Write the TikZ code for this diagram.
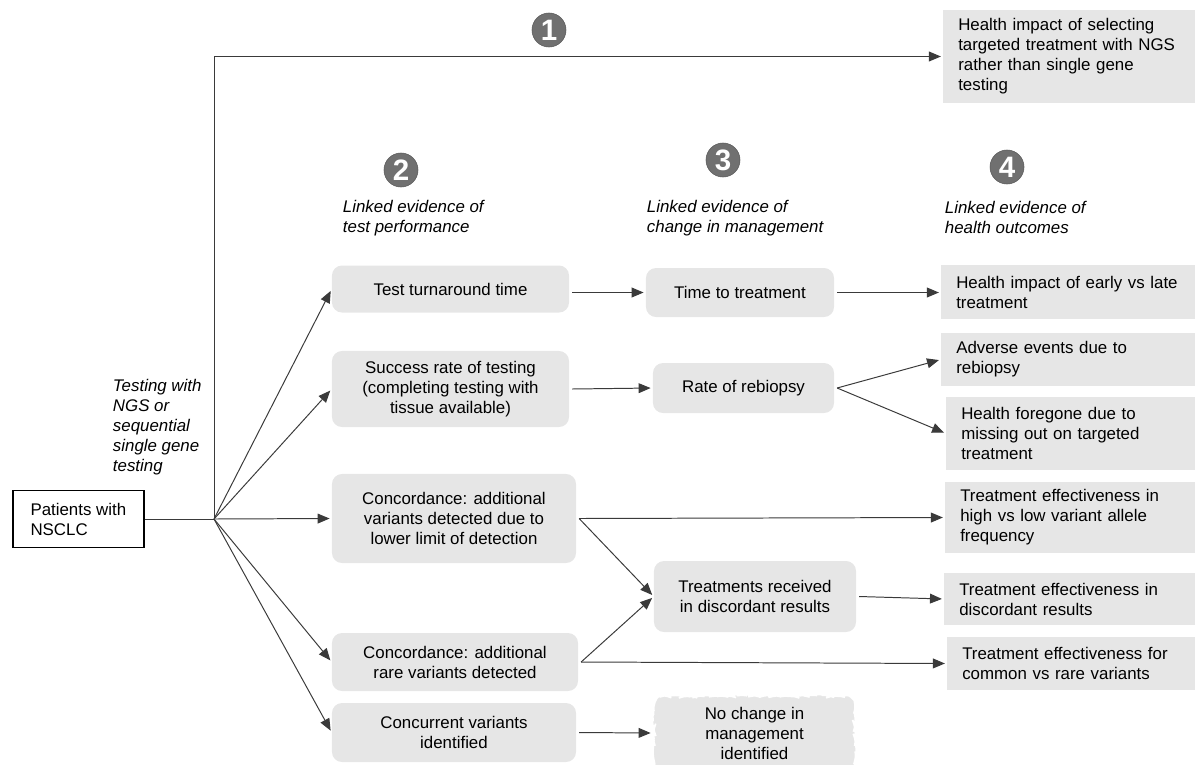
\documentclass[tikz,border=0pt]{standalone}
\usepackage{fontspec}
\setmainfont{Liberation Sans}
\usetikzlibrary{positioning,calc,arrows.meta,decorations.pathmorphing}

\definecolor{boxgray}{HTML}{E6E6E6}
\definecolor{numgray}{HTML}{707070}
\definecolor{linegray}{HTML}{3A3A3A}

\tikzset{
  rbox/.style={rectangle, rounded corners=0.25cm, fill=boxgray, align=center, inner sep=2pt},
  sbox/.style={rectangle, fill=boxgray, anchor=west, align=left, inner xsep=0.375cm, inner ysep=2pt},
  num/.style={circle, fill=numgray, draw=numgray!80!black, text=white, inner sep=0pt, minimum size=0.85cm,
    font=\fontsize{21}{21}\selectfont\bfseries},
  lbl/.style={align=left, anchor=west, font=\fontsize{12}{14.2}\selectfont\itshape},
  line/.style={draw=linegray, line width=0.7pt},
  arr/.style={line, -{Triangle[length=8.5pt,width=7pt]}, shorten >=1.5pt},
}

\begin{document}
\begin{tikzpicture}[x=0.025cm, y=-0.025cm, font=\fontsize{12}{14.2}\selectfont]
        \useasboundingbox (0,0) rectangle (1195,764);

        % start
        \node [draw=black, line width=1.2pt, align=left, anchor=west, minimum width=3.275cm, minimum height=1.425cm,
               inner xsep=0.4cm] (pat) at (12,519) {Patients with\\NSCLC};
        \node [lbl] (testing) at (108,427) {Testing with\\NGS or\\sequential\\single gene\\testing};
        \coordinate (hub) at (214,519);

        % step numbers
        \node [num] (n1) at (549,30) {1};
        \node [num] (n2) at (401,170) {2};
        \node [num] (n3) at (723,160) {3};
        \node [num] (n4) at (1007,167) {4};

        % column headings
        \node [lbl] (head2) at (338,218) {Linked evidence of\\test performance};
        \node [lbl] (head3) at (642,218) {Linked evidence of\\change in management};
        \node [lbl] (head4) at (940,217) {Linked evidence of\\health outcomes};

        % test performance
        \node [rbox, minimum width=5.925cm, minimum height=1.175cm] (tat) at (450.5,289) {Test turnaround time};
        \node [rbox, minimum width=5.925cm, minimum height=1.9cm] (succ) at (450.5,389)
              {Success rate of testing\\(completing testing with\\tissue available)};
        \node [rbox, minimum width=6.1cm, minimum height=2.225cm] (conc1) at (454,518.5)
              {Concordance: additional\\variants detected due to\\lower limit of detection};
        \node [rbox, minimum width=6.15cm, minimum height=1.45cm] (conc2) at (455,662)
              {Concordance: additional\\rare variants detected};
        \node [rbox, minimum width=6.1cm, minimum height=1.475cm] (concur) at (454,732.5)
              {Concurrent variants\\identified};

        % change in management
        \node [rbox, minimum width=4.7cm, minimum height=1.225cm] (ttt) at (740,292.5) {Time to treatment};
        \node [rbox, minimum width=4.525cm, minimum height=1.25cm] (rebi) at (743.5,388) {Rate of rebiopsy};
        \node [rbox, minimum width=5.05cm, minimum height=1.775cm] (treat) at (755,596.5)
              {Treatments received\\in discordant results};
        \node [rbox, minimum width=5.075cm, minimum height=1.9cm] (nochg) at (754.5,733)
              {No change in\\management\\identified};
        \draw [white, line width=1.2pt, rounded corners=0.25cm,
               decorate, decoration={random steps, segment length=2.5pt, amplitude=0.6pt}]
              (nochg.south west) rectangle (nochg.north east);

        % health outcomes
        \node [sbox, text width=5.55cm, minimum height=2.325cm] (h1) at (943,56.5)
              {Health impact of selecting\\targeted treatment with NGS\\rather than single gene\\testing};
        \node [sbox, text width=5.6cm, minimum height=1.35cm] (hearly) at (941,292)
              {Health impact of early vs late\\treatment};
        \node [sbox, text width=5.6cm, minimum height=1.325cm] (hadv) at (941,359.5)
              {Adverse events due to\\rebiopsy};
        \node [sbox, text width=5.5cm, minimum height=1.825cm] (hfor) at (946,433.5)
              {Health foregone due to\\missing out on targeted\\treatment};
        \node [sbox, text width=5.525cm, minimum height=1.775cm] (hvaf) at (945,517.5)
              {Treatment effectiveness in\\high vs low variant allele\\frequency};
        \node [sbox, text width=5.55cm, minimum height=1.3cm] (hdisc) at (944,599)
              {Treatment effectiveness in\\discordant results};
        \node [sbox, text width=5.475cm, minimum height=1.325cm] (hrare) at (947,663.5)
              {Treatment effectiveness for\\common vs rare variants};

        % connectors
        \draw [line] (pat.east) -- (hub);
        \draw [arr] (hub) |- (h1.west);
        \foreach \t in {tat,succ,conc1,conc2,concur}
            \draw [arr] (hub) -- (\t.west);

        \draw [arr] ([xshift=2pt]tat.east |- ttt.west) -- (ttt.west);
        \draw [arr] ([xshift=2pt]succ.east) -- (rebi.west);
        \draw [arr] ([xshift=2pt]ttt.east) -- (ttt.east -| hearly.west);
        \draw [arr] ([xshift=2pt]rebi.east) -- (hadv.west);
        \draw [arr] ([xshift=2pt]rebi.east) -- (hfor.west);

        \coordinate (c1out) at ([xshift=2pt]conc1.east);
        \coordinate (c2out) at ([xshift=2pt]conc2.east);
        \draw [arr] (c1out) -- (hvaf.west);
        \draw [arr] (c1out) -- (treat.west);
        \draw [arr] (c2out) -- (treat.west);
        \draw [arr] (c2out) -- (hrare.west);
        \draw [arr] ([xshift=2pt]treat.east) -- (hdisc.west);
        \draw [arr] ([xshift=2pt]concur.east) -- (nochg.west);
\end{tikzpicture}
\end{document}
